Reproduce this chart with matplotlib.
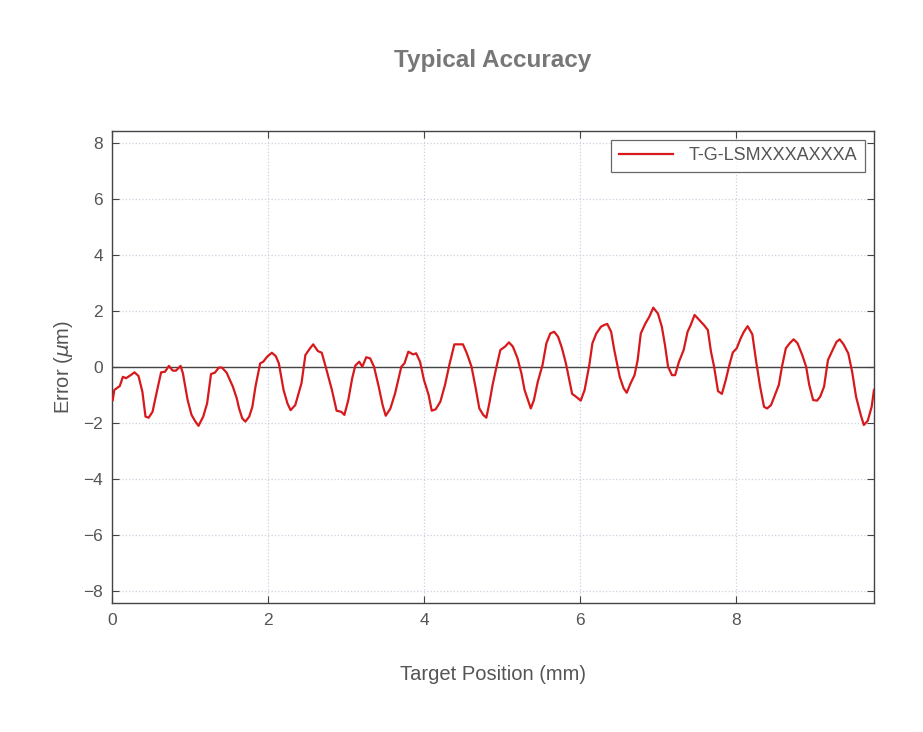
import matplotlib
matplotlib.use("Agg")
import matplotlib.pyplot as plt

plt.rcParams["font.family"] = ["Liberation Sans", "DejaVu Sans"]

# target position (mm) and positioning error (um)
pos = [0.01, 0.03, 0.10, 0.14, 0.18, 0.24, 0.29, 0.34, 0.39, 0.43, 0.47, 0.52,
       0.58, 0.63, 0.68, 0.73, 0.78, 0.82, 0.88, 0.91, 0.97, 1.02, 1.07, 1.11,
       1.17, 1.22, 1.27, 1.32, 1.37, 1.41, 1.47, 1.55, 1.60, 1.63, 1.67, 1.71,
       1.76, 1.80, 1.84, 1.90, 1.94, 1.99, 2.05, 2.10, 2.14, 2.20, 2.25, 2.29,
       2.35, 2.43, 2.48, 2.54, 2.58, 2.64, 2.69, 2.74, 2.82, 2.88, 2.94, 2.98,
       3.03, 3.08, 3.12, 3.17, 3.21, 3.26, 3.31, 3.36, 3.42, 3.47, 3.51, 3.57,
       3.63, 3.71, 3.75, 3.80, 3.86, 3.90, 3.95, 4.00, 4.06, 4.10, 4.15, 4.21,
       4.27, 4.33, 4.39, 4.44, 4.50, 4.55, 4.61, 4.66, 4.71, 4.76, 4.80, 4.84,
       4.88, 4.93, 4.98, 5.04, 5.09, 5.14, 5.20, 5.25, 5.29, 5.37, 5.41, 5.46,
       5.52, 5.57, 5.62, 5.67, 5.72, 5.77, 5.82, 5.90, 5.95, 6.01, 6.06, 6.12,
       6.16, 6.21, 6.27, 6.31, 6.35, 6.40, 6.44, 6.48, 6.51, 6.56, 6.60, 6.65,
       6.70, 6.74, 6.78, 6.84, 6.89, 6.94, 7.00, 7.05, 7.09, 7.13, 7.18, 7.22,
       7.27, 7.33, 7.38, 7.42, 7.47, 7.53, 7.59, 7.64, 7.68, 7.72, 7.77, 7.82,
       7.87, 7.91, 7.96, 8.01, 8.06, 8.10, 8.15, 8.21, 8.26, 8.31, 8.36, 8.40,
       8.45, 8.50, 8.55, 8.59, 8.64, 8.69, 8.74, 8.79, 8.85, 8.90, 8.94, 8.99,
       9.04, 9.08, 9.13, 9.18, 9.24, 9.29, 9.33, 9.38, 9.44, 9.49, 9.54, 9.60,
       9.64, 9.69, 9.74, 9.77]
err = [-1.18, -0.82, -0.68, -0.35, -0.40, -0.29, -0.19, -0.32, -0.88, -1.77, -1.81, -1.60,
       -0.82, -0.19, -0.17, 0.04, -0.13, -0.13, 0.04, -0.23, -1.18, -1.71, -1.95, -2.10,
       -1.77, -1.30, -0.25, -0.20, -0.02, -0.02, -0.20, -0.70, -1.12, -1.48, -1.83, -1.95,
       -1.77, -1.42, -0.70, 0.13, 0.19, 0.37, 0.51, 0.39, 0.13, -0.82, -1.30, -1.54,
       -1.36, -0.58, 0.43, 0.67, 0.81, 0.57, 0.51, 0.01, -0.82, -1.56, -1.60, -1.71,
       -1.18, -0.40, 0.05, 0.19, 0.01, 0.35, 0.31, 0.01, -0.70, -1.36, -1.74, -1.48,
       -0.94, 0.01, 0.13, 0.55, 0.45, 0.49, 0.19, -0.46, -1.00, -1.56, -1.51, -1.24,
       -0.64, 0.13, 0.81, 0.81, 0.81, 0.49, 0.01, -0.70, -1.48, -1.71, -1.81, -1.27,
       -0.64, 0.01, 0.61, 0.73, 0.88, 0.73, 0.31, -0.23, -0.82, -1.48, -1.18, -0.52,
       0.07, 0.85, 1.20, 1.26, 1.08, 0.67, 0.13, -0.96, -1.06, -1.20, -0.82, 0.07,
       0.85, 1.20, 1.44, 1.50, 1.54, 1.26, 0.61, 0.05, -0.35, -0.76, -0.92, -0.58,
       -0.29, 0.25, 1.20, 1.56, 1.80, 2.12, 1.91, 1.44, 0.79, 0.01, -0.29, -0.29,
       0.19, 0.61, 1.26, 1.50, 1.86, 1.68, 1.50, 1.32, 0.55, 0.01, -0.86, -0.96,
       -0.46, 0.01, 0.52, 0.67, 1.02, 1.25, 1.46, 1.17, 0.19, -0.70, -1.42, -1.48,
       -1.36, -1.00, -0.64, 0.01, 0.67, 0.85, 0.99, 0.85, 0.43, 0.01, -0.64, -1.18,
       -1.20, -1.06, -0.70, 0.25, 0.61, 0.90, 0.99, 0.81, 0.49, -0.17, -1.06, -1.71,
       -2.07, -1.92, -1.42, -0.82]

label = "T-G-LSMXXXAXXXA"
xticks = [0, 2, 4, 6, 8]
yticks = [-8, -6, -4, -2, 0, 2, 4, 6, 8]

text_gray = "#555555"

fig = plt.figure(figsize=(9.23, 7.32), dpi=100)
ax = fig.add_axes([0.1213, 0.1762, 0.8256, 0.6448])

ax.axhline(0, color="#444444", lw=1.0, zorder=2)
ax.plot(pos, err, color="#d7191c", lw=1.6, label=label, zorder=3)

ax.set_xlim(0, 9.77)
ax.set_ylim(-8.43, 8.43)
ax.set_xticks(xticks)
ax.set_yticks(yticks)
ax.grid(True, color="#cfd0de", linestyle=":", linewidth=0.9)

ax.tick_params(direction="in", top=True, right=True, length=5,
               labelsize=12.5, labelcolor=text_gray, color="#444444")
ax.tick_params(axis="x", pad=7.5)
ax.tick_params(axis="y", pad=6.5)
for sp in ax.spines.values():
    sp.set_color("#444444")
    sp.set_linewidth(1.0)

ax.set_xlabel("Target Position (mm)", fontsize=14.5, color=text_gray, labelpad=26)
ax.set_ylabel(r"Error ($\mu$m)", fontsize=14.5, color=text_gray, labelpad=6)
fig.text(0.534, 0.918, "Typical Accuracy", ha="center", va="center",
         fontsize=17.5, fontweight="bold", color="#777777")

leg = ax.legend(loc="upper right", fontsize=13, frameon=True, fancybox=False,
                borderpad=0.4, handlelength=3.0, handletextpad=0.9)
leg.get_frame().set_edgecolor("#444444")
leg.get_frame().set_linewidth(0.9)
for t in leg.get_texts():
    t.set_color(text_gray)

fig.savefig("out.png", dpi=100)
